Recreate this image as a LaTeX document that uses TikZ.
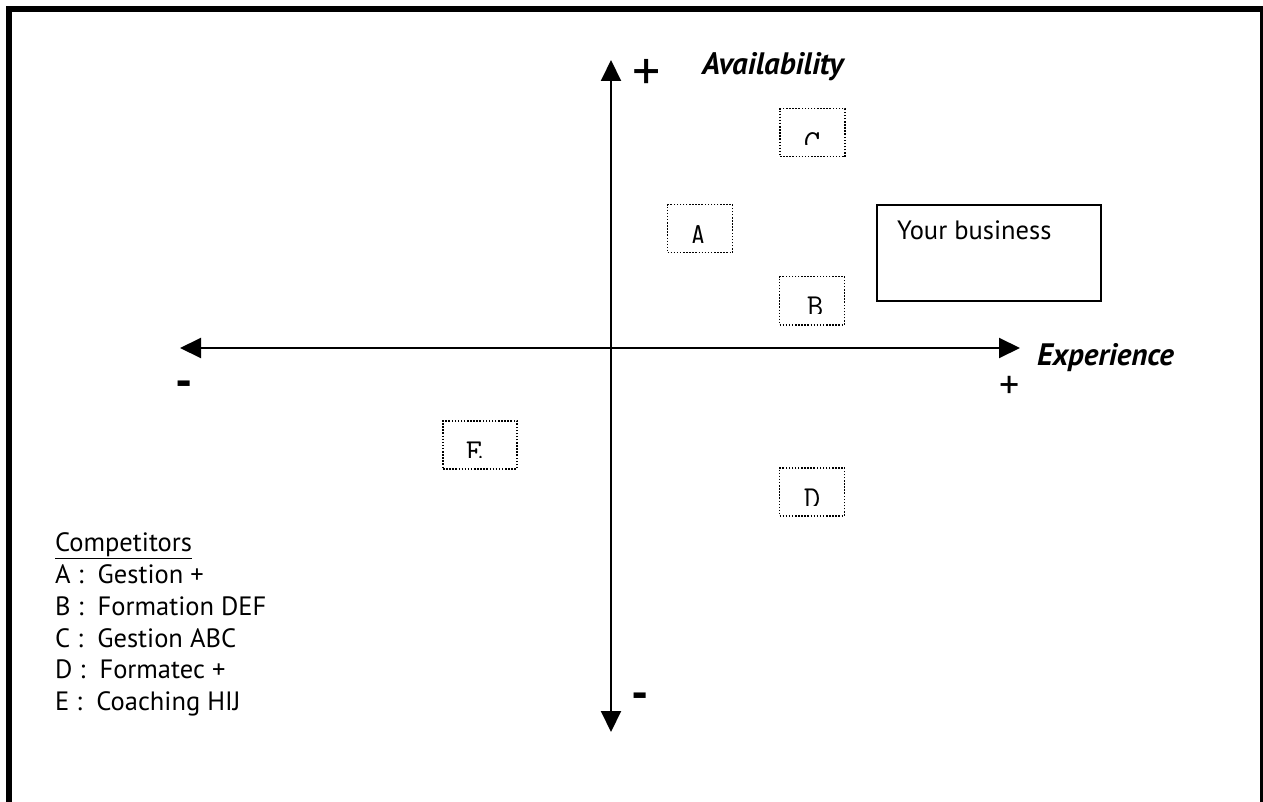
\documentclass[tikz,border=0pt]{standalone}
\usepackage{fontspec}
\setmainfont{PT Sans}
\usetikzlibrary{arrows.meta}
\begin{document}
\begin{tikzpicture}[x=1pt,y=-1pt,
  axis/.style={line width=2pt,{Triangle[length=21pt,width=20pt]}-{Triangle[length=21pt,width=20pt]}},
  compbox/.style={draw,line width=1.5pt,dash pattern=on 1.5pt off 1.6pt,minimum width=65pt,minimum height=48pt,inner sep=0pt},
  letter/.style={anchor=north,inner sep=0pt,font=\ttfamily\fontsize{32}{32}\selectfont},
  txt/.style={anchor=base west,inner sep=0pt,font=\fontsize{26.5}{30}\selectfont},
  axlabel/.style={anchor=base west,inner sep=0pt,font=\bfseries\itshape\fontsize{31}{34}\selectfont},
  sign/.style={inner sep=0pt,font=\fontsize{56}{56}\selectfont},
  minus/.style={inner sep=0pt,font=\bfseries\fontsize{48}{48}\selectfont}]
\useasboundingbox (0,0) rectangle (1263,802);
\clip (0,0) rectangle (1263,802);
% frame
\draw[line width=6pt] (9,830) -- (9,9) -- (1263,9) -- (1263,830);
% axes
\coordinate (top) at (611,60);
\coordinate (bottom) at (611,732);
\coordinate (left) at (180,348);
\coordinate (right) at (1020,348);
\draw[axis] (bottom) -- (top);
\draw[axis] (left) -- (right);
% axis labels and signs
\node[sign] (ptop) at (647,75) {+};
\node[axlabel] (avail) at (702,75) {Availability};
\node[axlabel] (exper) at (1037,365) {Experience};
\node[sign,font=\fontsize{40}{40}\selectfont] (pright) at (1010,387) {+};
\node[minus] (mleft) at (184,389) {-};
\node[minus] (mbottom) at (640,701) {-};
% competitor boxes
\foreach \n/\x/\y/\w/\lx/\dy/\cut in {C/812.5/108/65/812/24/37, A/700/204/65/698/21/39, B/812/276/65/815/21/37, E/480/420/74/474/22/37, D/812/467/65/812/22/38}{
  \node[compbox,anchor=north,minimum width=\w pt] (\n) at (\x,\y) {};
  \begin{scope}
    \clip ([yshift=2pt]\n.north west) rectangle ([yshift=-\cut pt]\n.north east);
    \node[letter] (l\n) at (\lx,\y+\dy) {\n};
  \end{scope}
}
% your business
\node[draw,line width=1.6pt,minimum width=224pt,minimum height=96pt,anchor=north west,inner sep=0pt] (yb) at (876,204) {};
\node[txt] (ybt) at (897,240) {Your business};
% legend
\node[txt] (comp) at (55,551) {\underline{Competitors}};
\node[txt] (la) at (55,583) {A :\ \ Gestion +};
\node[txt] (lb) at (55,615) {B :\ \ Formation DEF};
\node[txt] (lc) at (55,647) {C :\ \ Gestion ABC};
\node[txt] (ld) at (55,678) {D :\ \ Formatec +};
\node[txt] (le) at (55,710) {E :\ \ Coaching HIJ};
\end{tikzpicture}
\end{document}
